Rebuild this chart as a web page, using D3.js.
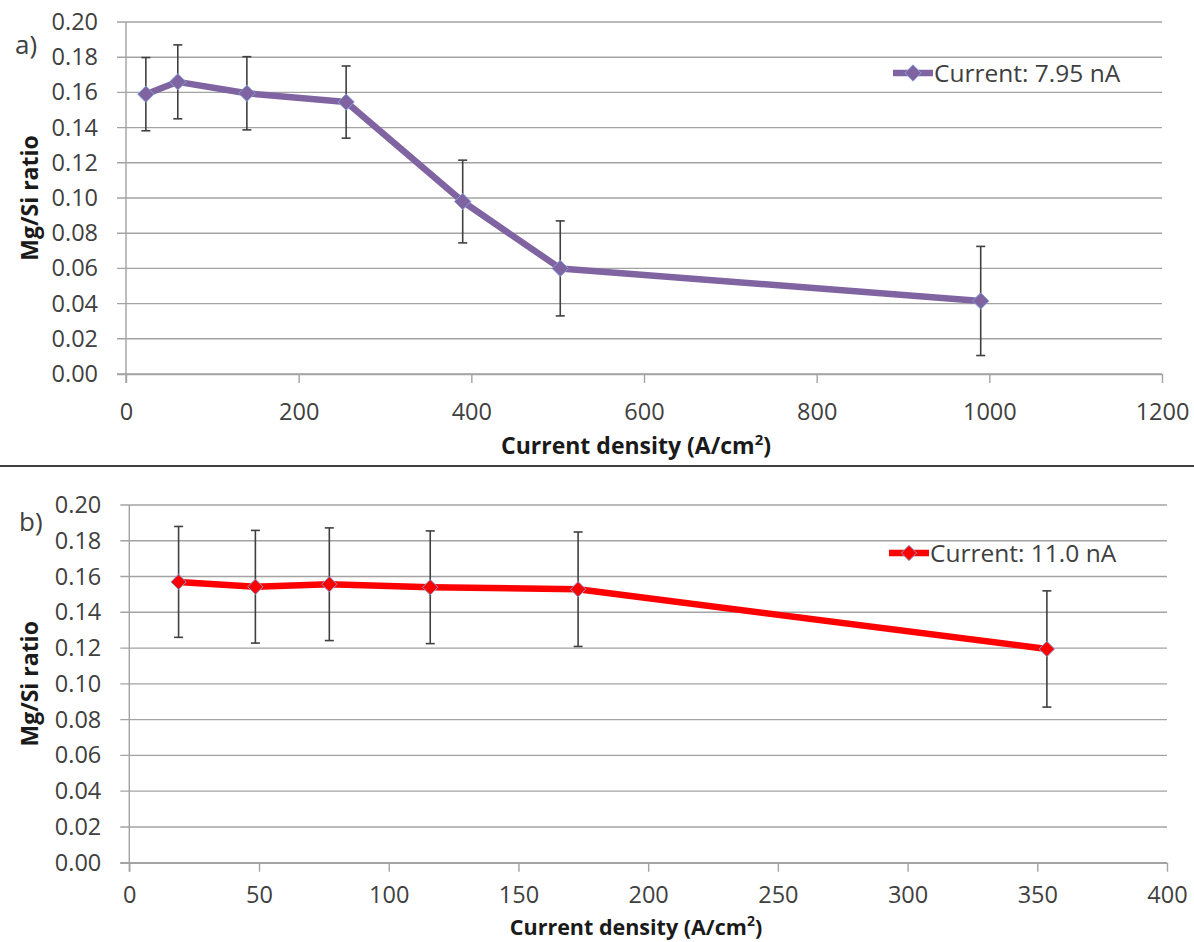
<!DOCTYPE html>
<html><head><meta charset="utf-8">
<script src="https://cdn.jsdelivr.net/npm/d3@7"></script>
<style>
html,body{margin:0;padding:0;background:#fff;}
svg{display:block;font-family:"Open Sans",Lato,sans-serif;}
</style></head>
<body>
<svg id="chart" width="1194" height="942"></svg>
<script>
// Panel a data
const densityA = [23, 60, 140, 255, 390, 503, 990];
const ratioA   = [0.159, 0.166, 0.1595, 0.1545, 0.098, 0.060, 0.0415];
const errA     = [0.0208, 0.021, 0.0208, 0.0205, 0.0235, 0.027, 0.031];
const legendA  = "Current: 7.95 nA";
const xTicksA  = [0, 200, 400, 600, 800, 1000, 1200];

// Panel b data
const densityB = [19, 48.6, 77.1, 116, 173, 353.7];
const ratioB   = [0.157, 0.1543, 0.1557, 0.154, 0.1529, 0.1195];
const errB     = [0.031, 0.0315, 0.0315, 0.0315, 0.032, 0.0325];
const legendB  = "Current: 11.0 nA";
const xTicksB  = [0, 50, 100, 150, 200, 250, 300, 350, 400];

const yTicks = [0, 0.02, 0.04, 0.06, 0.08, 0.10, 0.12, 0.14, 0.16, 0.18, 0.20];
const yTitle = "Mg/Si ratio";

const FONT = "'Open Sans', Lato, sans-serif";
const TICK_FS = 23.5;
const svg = d3.select("#chart");

function panel(cfg){
  const g = svg.append("g");
  const x = d3.scaleLinear().domain(cfg.xDomain).range([cfg.left, cfg.right]);
  const y = d3.scaleLinear().domain([0, 0.2]).range([cfg.bottom, cfg.top]);
  const gridCol = "#a3a3a3";

  g.selectAll(".grid").data(yTicks).join("line")
    .attr("x1", cfg.left - 9).attr("x2", cfg.right)
    .attr("y1", d => y(d)).attr("y2", d => y(d))
    .attr("stroke", gridCol).attr("stroke-width", 1.4);

  g.append("line").attr("x1", cfg.left).attr("x2", cfg.left)
    .attr("y1", cfg.top).attr("y2", cfg.bottom + 9)
    .attr("stroke", gridCol).attr("stroke-width", 1.4);

  const yAxis = g.append("g").attr("transform", `translate(${cfg.left - 25},0)`)
    .call(d3.axisLeft(y).tickValues(yTicks).tickFormat(d3.format(".2f")).tickSize(0));
  yAxis.select(".domain").remove();
  yAxis.selectAll("text").attr("font-size", TICK_FS).attr("fill", "#404040")
    .attr("font-family", FONT);

  const xAxis = g.append("g").attr("transform", `translate(0,${cfg.bottom})`)
    .call(d3.axisBottom(x).tickValues(cfg.xTicks).tickSize(9).tickPadding(cfg.tickPad).tickFormat(d3.format("d")));
  xAxis.select(".domain").attr("stroke", gridCol).attr("stroke-width", 1.4)
    .attr("d", `M${cfg.left - 9},0.5H${cfg.right}`);
  xAxis.selectAll(".tick line").attr("stroke", gridCol).attr("stroke-width", 1.4);
  xAxis.selectAll("text").attr("font-size", TICK_FS).attr("fill", "#404040")
    .attr("font-family", FONT);

  const eb = g.append("g").attr("stroke", "#404040").attr("stroke-width", 1.6);
  cfg.xs.forEach((xv, i) => {
    const cx = x(xv), hi = y(cfg.ys[i] + cfg.err[i]), lo = y(cfg.ys[i] - cfg.err[i]);
    eb.append("line").attr("x1", cx).attr("x2", cx).attr("y1", hi).attr("y2", lo);
    eb.append("line").attr("x1", cx - 4.5).attr("x2", cx + 4.5).attr("y1", hi).attr("y2", hi);
    eb.append("line").attr("x1", cx - 4.5).attr("x2", cx + 4.5).attr("y1", lo).attr("y2", lo);
  });

  const pts = cfg.xs.map((xv, i) => [xv, cfg.ys[i]]);
  g.append("path").datum(pts)
    .attr("d", d3.line().x(d => x(d[0])).y(d => y(d[1])))
    .attr("fill", "none").attr("stroke", cfg.color).attr("stroke-width", 6.5)
    .attr("stroke-linejoin", "round");

  const sym = d3.symbol().type(d3.symbolDiamond2).size(cfg.msize);
  g.selectAll(".mk").data(pts).join("path")
    .attr("d", sym).attr("transform", d => `translate(${x(d[0])},${y(d[1])})`)
    .attr("fill", cfg.mfill).attr("stroke", "#7f9fd6").attr("stroke-width", 1);

  const lx = cfg.legX, ly = cfg.legY;
  g.append("line").attr("x1", lx).attr("x2", lx + 40).attr("y1", ly).attr("y2", ly)
    .attr("stroke", cfg.color).attr("stroke-width", 6.5);
  g.append("path").attr("d", sym).attr("transform", `translate(${lx + 20},${ly})`)
    .attr("fill", cfg.mfill).attr("stroke", "#7f9fd6").attr("stroke-width", 1);
  g.append("text").attr("x", lx + 41).attr("y", ly + 8.5).text(cfg.legend)
    .attr("font-size", 24.5).attr("fill", "#404040");

  g.append("text").attr("transform", `translate(38,${(cfg.top + cfg.bottom) / 2}) rotate(-90)`)
    .attr("text-anchor", "middle").attr("font-size", 23).attr("font-weight", "bold")
    .attr("fill", "#1a1a1a").text(yTitle);

  const xt = g.append("text").attr("x", 636).attr("y", cfg.xTitleY).attr("text-anchor", "middle")
    .attr("font-size", cfg.xTitleFs).attr("font-weight", "bold").attr("fill", "#1a1a1a");
  xt.append("tspan").text("Current density (A/cm");
  xt.append("tspan").text("2").attr("font-size", cfg.xTitleFs * 0.65).attr("dy", -9);
  xt.append("tspan").text(")").attr("dy", 9);

  g.append("text").attr("x", cfg.labX).attr("y", cfg.labY).text(cfg.label)
    .attr("font-size", 26).attr("fill", "#404040");
}

panel({xDomain:[0,1200], left:126, right:1162, top:22, bottom:374, xTicks:xTicksA, tickPad:20,
  xs:densityA, ys:ratioA, err:errA, color:"#8064a2", mfill:"#8064a2", msize:170,
  legX:893, legY:73, legend:legendA, xTitleY:454, xTitleFs:23, label:"a)", labX:15, labY:54});

panel({xDomain:[0,400], left:129.3, right:1167, top:505, bottom:862.7, xTicks:xTicksB, tickPad:15,
  xs:densityB, ys:ratioB, err:errB, color:"#ff0000", mfill:"#ff0000", msize:150,
  legX:889, legY:553, legend:legendB, xTitleY:935, xTitleFs:21.5, label:"b)", labX:19, labY:531});

svg.append("line").attr("x1", 0).attr("x2", 1194).attr("y1", 466).attr("y2", 466)
  .attr("stroke", "#404040").attr("stroke-width", 2);
</script>
</body></html>
